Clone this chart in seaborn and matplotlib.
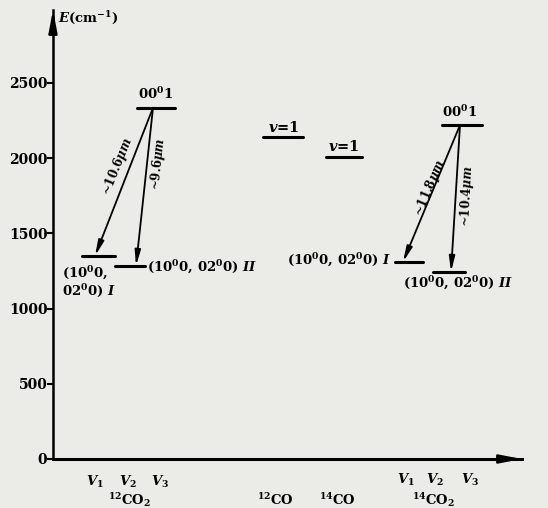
import pandas as pd
import matplotlib.pyplot as plt
import seaborn as sns

# ==== DATA ===================================================================
# energies (cm^-1)
co2_12_levels = [2335, 1350, 1283]      # 00^01, (10^00,02^00) I, (10^00,02^00) II
co2_14_levels = [2220, 1310, 1243]
co_levels = [2140, 2010]                # 12CO v=1, 14CO v=1
y_ticks = [0, 500, 1000, 1500, 2000, 2500]
lines_12 = ['~10.6$\\mu m$', '~9.6$\\mu m$']
lines_14 = ['~11.8$\\mu m$', '~10.4$\\mu m$']
species = ['$^{12}$CO$_2$', '$^{12}$CO', '$^{14}$CO', '$^{14}$CO$_2$']
modes = ['$V_1$', '$V_2$', '$V_3$']

# ==== SETTINGS ===============================================================
sns.set_style("white")
paper = '#ebebe7'
plt.rcParams['font.family'] = ['DejaVu Serif']
plt.rcParams['font.weight'] = 'bold'
plt.rcParams['text.color'] = 'black'
plt.rcParams['ytick.color'] = 'black'
plt.rcParams['mathtext.fontset'] = 'custom'
plt.rcParams['mathtext.rm'] = 'DejaVu Serif:bold'
plt.rcParams['mathtext.bf'] = 'DejaVu Serif:bold'
plt.rcParams['mathtext.it'] = 'DejaVu Serif:italic:bold'

# ==== FIGURE =================================================================
fig = plt.figure(figsize=(5.48, 5.08), dpi=100, facecolor=paper)
ax = fig.add_axes([53 / 548, 1 - 459 / 508, 469 / 548, 449 / 508])
ax.set_facecolor(paper)

# ==== LEVELS =================================================================
spans = [(84, 122), (29, 62), (62, 92),          # 12CO2
         (389, 429), (342, 370), (380, 412),     # 14CO2
         (210, 250), (273, 309)]                 # 12CO, 14CO
energies = co2_12_levels + co2_14_levels + co_levels
rows = []
for i, (e, (x0, x1)) in enumerate(zip(energies, spans)):
    rows.append({'level': i, 'x': x0, 'E': e})
    rows.append({'level': i, 'x': x1, 'E': e})
df = pd.DataFrame(rows)
sns.lineplot(data=df, x='x', y='E', units='level', estimator=None,
             color='k', lw=2.2, ax=ax, legend=False)

# ==== TRANSITIONS ============================================================
aprops = dict(arrowstyle='-|>,head_length=0.9,head_width=0.17', color='k',
              lw=1.3, shrinkA=0, shrinkB=0)
ax.annotate('', xy=(42, co2_12_levels[1]), xytext=(100, co2_12_levels[0]),
            arrowprops=aprops)
ax.annotate('', xy=(83, co2_12_levels[2]), xytext=(100, co2_12_levels[0]),
            arrowprops=aprops)
ax.annotate('', xy=(350, co2_14_levels[1]), xytext=(407, co2_14_levels[0]),
            arrowprops=aprops)
ax.annotate('', xy=(398, co2_14_levels[2]), xytext=(407, co2_14_levels[0]),
            arrowprops=aprops)

ax.text(64, 1945, lines_12[0], rotation=68, ha='center', va='center', fontsize=8.5)
ax.text(105, 1960, lines_12[1], rotation=84, ha='center', va='center', fontsize=8.5)
ax.text(377, 1805, lines_14[0], rotation=67, ha='center', va='center', fontsize=8.5)
ax.text(414, 1745, lines_14[1], rotation=87, ha='center', va='center', fontsize=8.5)

# ==== LEVEL LABELS ===========================================================
ax.text(103, 2425, '00$^0$1', ha='center', va='center', fontsize=9.5)
ax.text(407, 2305, '00$^0$1', ha='center', va='center', fontsize=9.5)
ax.text(9, 1290, '(10$^0$0,\n02$^0$0) $I$', ha='left', va='top', fontsize=9.5,
        linespacing=1.0)
ax.text(94, 1272, '(10$^0$0, 02$^0$0) $II$', ha='left', va='center', fontsize=9.5)
ax.text(338, 1318, '(10$^0$0, 02$^0$0) $I$', ha='right', va='center', fontsize=9.5)
ax.text(350, 1165, '(10$^0$0, 02$^0$0) $II$', ha='left', va='center', fontsize=9.5)
ax.text(231, 2205, '$v$=1', ha='center', va='center', fontsize=10.5)
ax.text(291, 2075, '$v$=1', ha='center', va='center', fontsize=10.5)

# ==== X LABELS ===============================================================
for m, x in zip(modes, [42, 75, 107]):
    ax.text(x, -150, m, ha='center', va='center', fontsize=9.5, clip_on=False)
for m, x in zip(modes, [353, 382, 417]):
    ax.text(x, -140, m, ha='center', va='center', fontsize=9.5, clip_on=False)
for s, x in zip(species, [77, 222, 284, 381]):
    ax.text(x, -275, s, ha='center', va='center', fontsize=9.5, clip_on=False)
ax.text(5, 2935, '$E$(cm$^{-1}$)', ha='left', va='center', fontsize=9.5)

# ==== AXES ===================================================================
ax.set_xlim(0, 469)
ax.set_ylim(0, 2985)
ax.set_xticks([])
ax.set_yticks(y_ticks)
ax.set_yticklabels([str(t) for t in y_ticks], fontsize=10, fontweight='bold')
ax.tick_params(axis='y', direction='out', length=4, width=1.5, pad=0,
               left=True, colors='k')
ax.set_xlabel('')
ax.set_ylabel('')
for s in ['top', 'right']:
    ax.spines[s].set_visible(False)
ax.spines['left'].set_linewidth(1.8)
ax.spines['bottom'].set_linewidth(2.2)
ax.spines['left'].set_color('k')
ax.spines['bottom'].set_color('k')
axprops = dict(arrowstyle='-|>,head_length=1.3,head_width=0.25', color='k',
               lw=1.8, shrinkA=0, shrinkB=0)
ax.annotate('', xy=(0, 1.0), xytext=(0, 0.95), xycoords='axes fraction',
            textcoords='axes fraction', arrowprops=axprops)
ax.annotate('', xy=(1.0, 0), xytext=(0.95, 0), xycoords='axes fraction',
            textcoords='axes fraction', arrowprops=axprops)

# ==== SAVE ===================================================================
fig.savefig('out.png', dpi=100, facecolor=paper)
